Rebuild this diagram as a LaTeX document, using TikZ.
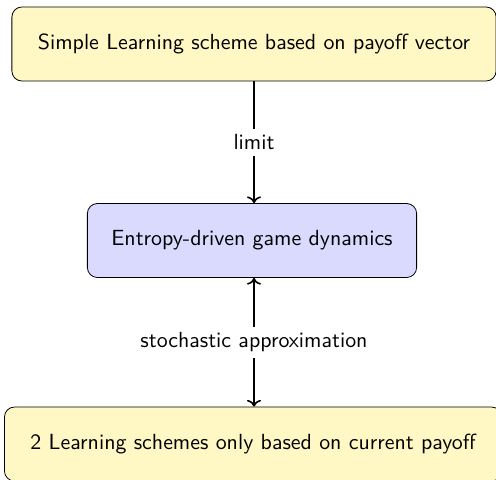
\documentclass[tikz,border=0pt]{standalone}
\usetikzlibrary{arrows.meta}
\definecolor{schemefill}{RGB}{255,248,196}
\definecolor{dynfill}{RGB}{218,218,255}
\begin{document}
\begin{tikzpicture}[font=\fontsize{10.95pt}{13.6pt}\selectfont\sffamily,
  block/.style={draw=black, rounded corners=5pt, minimum height=37pt,
    inner xsep=13pt, inner ysep=0pt},
  scheme/.style={block, fill=schemefill},
  dyn/.style={block, fill=dynfill, inner xsep=12pt},
  link/.style={thick},
  lbl/.style={fill=white, inner sep=3pt}]
  \useasboundingbox (0,0) rectangle (248pt,-239.5pt);
  \node[scheme] (simple) at (127pt,-22pt) {Simple Learning scheme based on payoff vector};
  \node[dyn] (entropy) at (126pt,-120.25pt) {Entropy-driven game dynamics};
  \node[scheme] (current) at (126.5pt,-222pt) {2 Learning schemes only based on current payoff};
  \draw[link,->] (simple.south -| 127pt,0) -- node[lbl] {limit} (entropy.north -| 127pt,0);
  \draw[link,<->] (entropy.south -| 127pt,0) -- node[lbl] {stochastic approximation} (current.north -| 127pt,0);
\end{tikzpicture}
\end{document}
